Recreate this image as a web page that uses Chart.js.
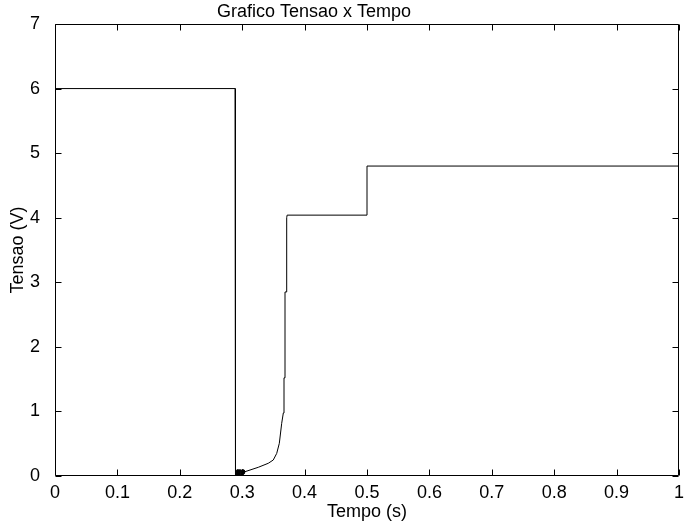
<!DOCTYPE html>
<html>
<head>
<meta charset="utf-8">
<title>Grafico Tensao x Tempo</title>
<script src="https://cdn.jsdelivr.net/npm/chart.js@4/dist/chart.umd.min.js"></script>
<style>
  html, body { margin: 0; padding: 0; background: #fff; }
  #wrap { width: 684px; height: 529px; }
</style>
</head>
<body>
<div id="wrap"><canvas id="c" width="684" height="529"></canvas></div>
<script>
// Tempo (s) and Tensao (V) samples of the traced curve
const tempo = [
  0.0, 0.2885, 0.2885,
  0.2890, 0.2895, 0.2900, 0.2905, 0.2910, 0.2915, 0.2920, 0.2925,
  0.2930, 0.2935, 0.2940, 0.2945, 0.2950, 0.2955, 0.2960, 0.2965,
  0.2970, 0.2975, 0.2980, 0.2985, 0.2990, 0.2995, 0.3000, 0.3005,
  0.3010, 0.3015, 0.3020, 0.3025, 0.3030, 0.3035,
  0.3045, 0.3258, 0.3418, 0.3498, 0.3553, 0.3595, 0.3633, 0.3659,
  0.3670, 0.3670, 0.3686, 0.3686, 0.3713, 0.3713, 0.3720,
  0.5000, 0.5000, 1.0
];
const tensao = [
  6.0, 6.0, 0.0,
  0.09, 0.00, 0.10, 0.01, 0.09, 0.00, 0.10, 0.01,
  0.09, 0.00, 0.10, 0.01, 0.09, 0.00, 0.10, 0.01,
  0.09, 0.00, 0.10, 0.01, 0.09, 0.00, 0.10, 0.01,
  0.09, 0.02, 0.10, 0.03, 0.09, 0.04,
  0.067, 0.135, 0.197, 0.248, 0.35, 0.506, 0.816, 0.976,
  0.976, 1.52, 1.52, 2.85, 2.85, 4.0, 4.04,
  4.04, 4.8, 4.8
];

const xTickValues = [0, 0.1, 0.2, 0.3, 0.4, 0.5, 0.6, 0.7, 0.8, 0.9, 1];
const xTickLabels = ['0', '0.1', '0.2', '0.3', '0.4', '0.5', '0.6', '0.7', '0.8', '0.9', '1'];
const yTickValues = [0, 1, 2, 3, 4, 5, 6, 7];
const yTickLabels = ['0', '1', '2', '3', '4', '5', '6', '7'];

const chartTitle = 'Grafico Tensao x Tempo';
const xTitle = 'Tempo (s)';
const yTitle = 'Tensao (V)';

const FONT = "'Liberation Sans', Arial, Helvetica, sans-serif";
const FSIZE = 18;

const points = tempo.map((t, i) => ({ x: t, y: tensao[i] }));

// Box around the axes, inward tick marks on all four sides, and the title
const axesBox = {
  id: 'axesBox',
  afterDraw(chart) {
    const { ctx, chartArea: a, scales } = chart;
    const L = Math.round(a.left) + 0.5, R = Math.round(a.right) - 0.5;
    const T = Math.round(a.top) + 0.5, B = Math.round(a.bottom) - 0.5;
    const len = 6;
    ctx.save();
    ctx.strokeStyle = '#000';
    ctx.lineWidth = 1;
    ctx.beginPath();
    ctx.rect(L, T, R - L, B - T);
    scales.x.ticks.forEach(tk => {
      const px = Math.round(scales.x.getPixelForValue(tk.value)) + 0.5;
      ctx.moveTo(px, B); ctx.lineTo(px, B - len);
      ctx.moveTo(px, T); ctx.lineTo(px, T + len);
    });
    scales.y.ticks.forEach(tk => {
      const py = Math.round(scales.y.getPixelForValue(tk.value)) + 0.5;
      ctx.moveTo(L, py); ctx.lineTo(L + len, py);
      ctx.moveTo(R, py); ctx.lineTo(R - len, py);
    });
    ctx.stroke();
    ctx.fillStyle = '#000';
    ctx.font = FSIZE + 'px ' + FONT;
    ctx.textAlign = 'center';
    ctx.textBaseline = 'middle';
    ctx.fillText(chartTitle, 314, 12);
    ctx.restore();
  }
};

new Chart(document.getElementById('c'), {
  type: 'line',
  data: {
    datasets: [{
      data: points,
      borderColor: '#000',
      borderWidth: 1,
      pointRadius: 0,
      tension: 0,
      fill: false
    }]
  },
  options: {
    responsive: false,
    animation: false,
    events: [],
    layout: { padding: { top: 24, right: 5, left: 0, bottom: 0 } },
    plugins: {
      legend: { display: false },
      tooltip: { enabled: false },
      title: { display: false }
    },
    scales: {
      x: {
        type: 'linear',
        min: 0,
        max: 1,
        afterBuildTicks: s => { s.ticks = xTickValues.map(v => ({ value: v })); },
        afterFit: s => { s.height = 53; s.paddingLeft = 0; s.paddingRight = 0; },
        grid: { display: false },
        border: { display: false },
        ticks: {
          autoSkip: false,
          maxRotation: 0,
          padding: -2,
          color: '#000',
          font: { family: FONT, size: FSIZE },
          callback: (v, i) => xTickLabels[i]
        },
        title: {
          display: true,
          text: xTitle,
          color: '#000',
          font: { family: FONT, size: FSIZE },
          padding: { top: 0, bottom: 6 }
        }
      },
      y: {
        type: 'linear',
        min: 0,
        max: 7,
        afterBuildTicks: s => { s.ticks = yTickValues.map(v => ({ value: v })); },
        afterFit: s => { s.width = 55; s.paddingTop = 0; s.paddingBottom = 0; },
        grid: { display: false },
        border: { display: false },
        ticks: {
          autoSkip: false,
          padding: 7,
          color: '#000',
          font: { family: FONT, size: FSIZE },
          callback: (v, i) => yTickLabels[i]
        },
        title: {
          display: true,
          text: yTitle,
          color: '#000',
          font: { family: FONT, size: FSIZE },
          padding: { top: 7, bottom: 0 }
        }
      }
    }
  },
  plugins: [axesBox]
});
</script>
</body>
</html>
